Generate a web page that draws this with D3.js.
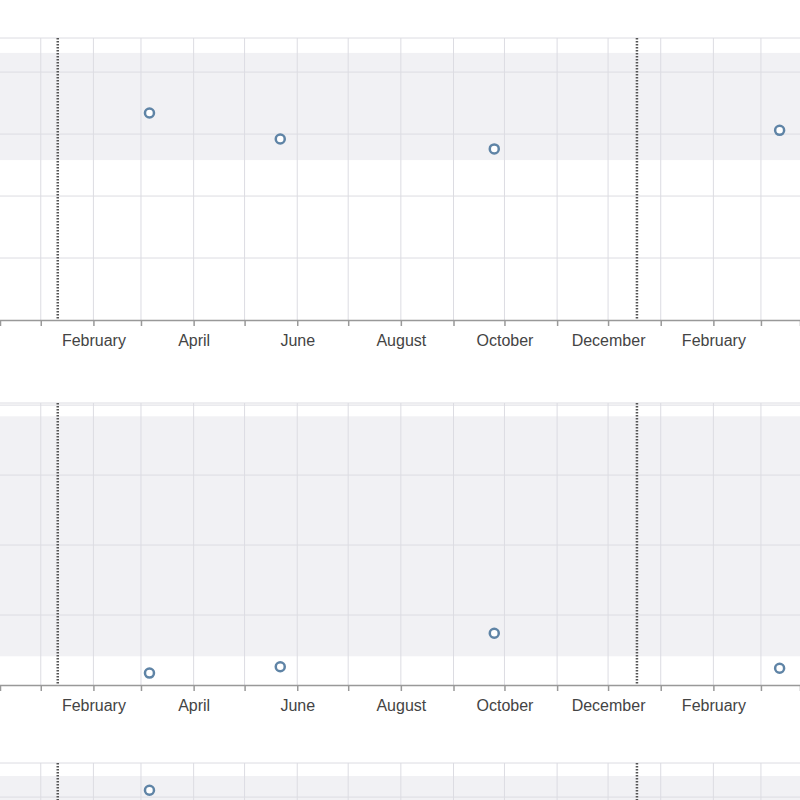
<!DOCTYPE html>
<html><head><meta charset="utf-8">
<script src="https://cdn.jsdelivr.net/npm/d3@7"></script>
<style>body{margin:0;background:#fff}</style>
</head><body><div id="chart"></div>
<script>
// data
var dates = ["2021-03-06", "2021-05-22", "2021-09-25", "2022-03-12"];
var topValues = [3.34, 2.92, 2.76, 3.06];
var midValues = [0.17, 0.26, 0.74, 0.24];
var lowValues = [4.11];
var markers = ["2021-01-11", "2021-12-18"];
var bands = [[2.58, 4.31], [0.41, 3.84], [0.5, 4.34]];

var parse = d3.timeParse("%Y-%m-%d");
var width = 800, height = 800;

var svg = d3.select("#chart").append("svg")
    .attr("width", width).attr("height", height);

var x = d3.scaleTime()
    .domain([parse("2020-12-08"), parse("2022-03-24")])
    .range([0, width]);

// one panel per series
var panels = [
  {top: 38, bottom: 320, max: 4.55, values: topValues, band: bands[0], axis: true},
  {top: 403, bottom: 685, max: 4.03, values: midValues, band: bands[1], axis: true},
  {top: 763, bottom: 1045, max: 4.55, values: lowValues, band: bands[2], axis: false}
];

panels.forEach(function(p) {
  var y = d3.scaleLinear().domain([0, p.max]).range([p.bottom, p.top]);
  var g = svg.append("g");

  g.append("rect")
      .attr("x", 0).attr("width", width)
      .attr("y", y(p.band[1])).attr("height", y(p.band[0]) - y(p.band[1]))
      .attr("fill", "#f1f1f4");

  // vertical grid
  g.selectAll(".vg").data(x.ticks(d3.timeMonth.every(1))).enter().append("line")
      .attr("x1", function(d) { return x(d); }).attr("x2", function(d) { return x(d); })
      .attr("y1", p.top).attr("y2", p.bottom)
      .attr("stroke", "#dcdce2").attr("stroke-width", 1);

  // horizontal grid
  g.selectAll(".hg").data(d3.range(1, Math.floor(p.max) + 1).concat([p.max])).enter().append("line")
      .attr("x1", 0).attr("x2", width)
      .attr("y1", function(d) { return y(d); }).attr("y2", function(d) { return y(d); })
      .attr("stroke", "#dcdce2").attr("stroke-width", 1);

  g.selectAll(".mk").data(markers).enter().append("line")
      .attr("x1", function(d) { return x(parse(d)); }).attr("x2", function(d) { return x(parse(d)); })
      .attr("y1", p.top).attr("y2", p.bottom)
      .attr("stroke", "#555").attr("stroke-width", 2.5)
      .attr("stroke-dasharray", "1.5,1.5");

  if (p.axis) {
    var ax = g.append("g")
        .attr("transform", "translate(0," + p.bottom + ")")
        .call(d3.axisBottom(x)
            .ticks(d3.timeMonth.every(1))
            .tickSize(6).tickPadding(9)
            .tickFormat(function(d) { return d.getMonth() % 2 === 1 ? d3.timeFormat("%B")(d) : ""; }));
    ax.select(".domain").attr("stroke", "#999").attr("stroke-width", 1.5);
    ax.selectAll(".tick line").attr("stroke", "#999").attr("stroke-width", 1.5);
    ax.selectAll("text")
        .attr("font-family", "Liberation Sans, Arial, sans-serif")
        .attr("font-size", 16).attr("fill", "#444");
  }

  g.selectAll("circle").data(p.values).enter().append("circle")
      .attr("cx", function(d, i) { return x(parse(dates[i])); })
      .attr("cy", function(d) { return y(d); })
      .attr("r", 4.5)
      .attr("fill", "#fff").attr("stroke", "#5f84a6").attr("stroke-width", 2.5);
});
</script>
</body></html>
